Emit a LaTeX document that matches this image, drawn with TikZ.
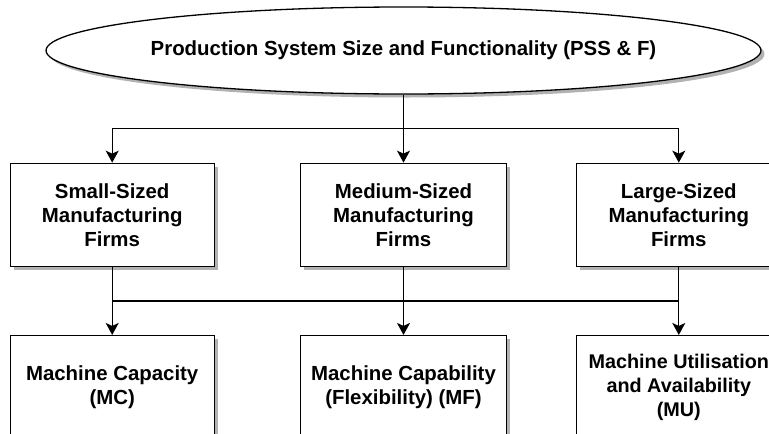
\documentclass[tikz,border=0pt]{standalone}
\usepackage{fontspec}
\setmainfont{Liberation Sans}
\usetikzlibrary{positioning,shapes.geometric,arrows.meta,shadows}

\begin{document}
\begin{tikzpicture}[
    % Boxes with grey drop shadow
    box/.style={rectangle, draw=black, fill=white, line width=1.3pt,
                minimum width=204pt, minimum height=103pt, align=center,
                font=\bfseries\fontsize{20.4}{24}\selectfont,
                drop shadow={shadow xshift=3.5pt, shadow yshift=-3.5pt,
                             fill=black!30, opacity=1}},
    topic/.style={box, ellipse, minimum width=531pt, minimum height=87pt,
                  inner sep=0pt},
    % Connectors
    arrow/.style={-{Stealth[length=12pt, width=13pt, inset=3pt]},
                  line width=1.3pt},
    line/.style={line width=1.3pt},
    node distance=68pt and 85pt
]

\useasboundingbox (0,0) rectangle (769pt,-434pt);

% Top topic
\node[topic] (pss) at (403.5pt,-50.5pt)
    {Production System Size and Functionality (PSS \& F)};

% Firm sizes
\node[box, below=68pt of pss, minimum width=206pt] (medium)
    {Medium-Sized\\Manufacturing\\Firms};
\node[box, left=85pt of medium] (small) {Small-Sized\\Manufacturing\\Firms};
\node[box, right=69pt of medium] (large) {Large-Sized\\Manufacturing\\Firms};

% Machine factors
\node[box, below=68pt of small] (mc) {Machine Capacity\\(MC)};
\node[box, below=68pt of medium, minimum width=206pt] (mf)
    {Machine Capability\\(Flexibility) (MF)};
\node[box, below=68pt of large, font=\bfseries\fontsize{19.8}{24}\selectfont] (mu)
    {Machine Utilisation\\and Availability\\(MU)};

% Bus points
\coordinate (bus1) at ([yshift=-34pt]pss.south);
\coordinate (bus2) at ([yshift=-34pt]medium.south);

% Topic to firms
\draw[line] (pss.south) -- (bus1);
\draw[arrow] (bus1) -| (small.north);
\draw[arrow] (bus1) -- (medium.north);
\draw[arrow] (bus1) -| (large.north);

% Firms to machine factors
\draw[line] (small.south |- bus2) -- (large.south |- bus2);
\draw[arrow] (small.south) -- (mc.north);
\draw[arrow] (medium.south) -- (mf.north);
\draw[arrow] (large.south) -- (mu.north);

\end{tikzpicture}
\end{document}
